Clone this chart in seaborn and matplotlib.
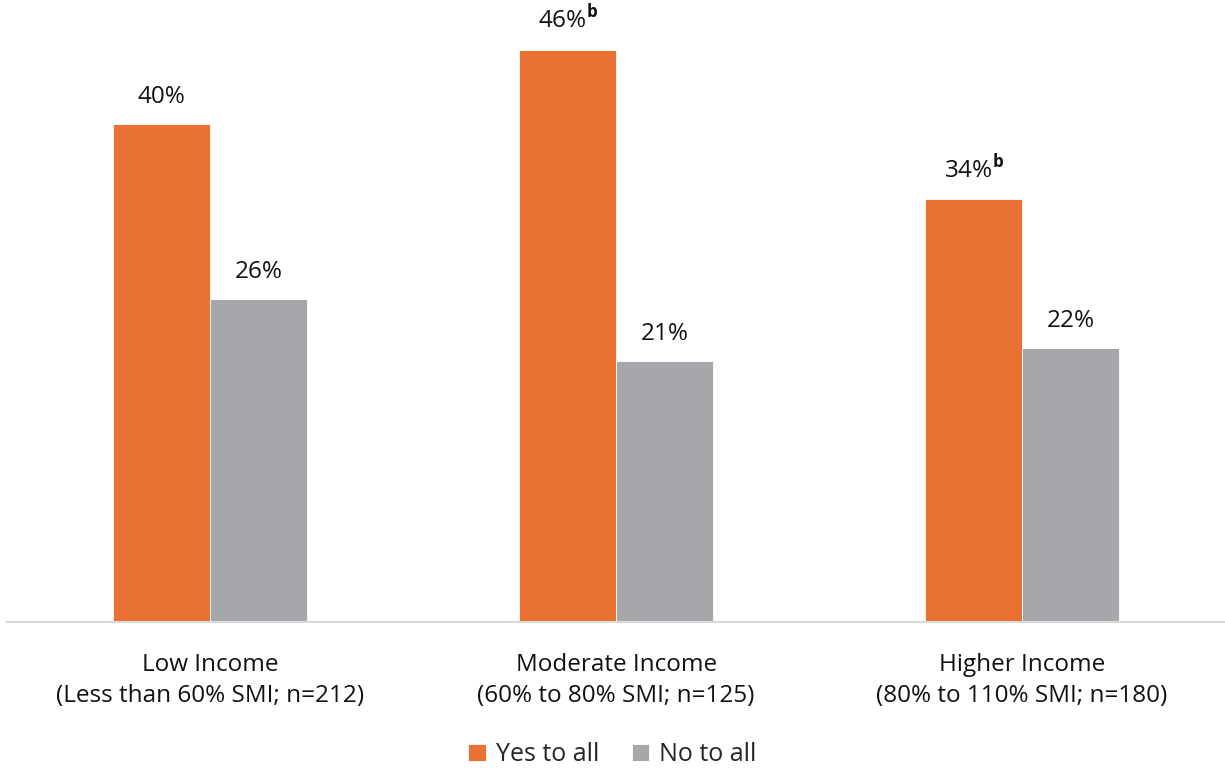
import matplotlib
matplotlib.use("Agg")
import matplotlib.pyplot as plt
import seaborn as sns
import pandas as pd

groups = ["Low Income\n(Less than 60% SMI; n=212)",
          "Moderate Income\n(60% to 80% SMI; n=125)",
          "Higher Income\n(80% to 110% SMI; n=180)"]
series = ["Yes to all", "No to all"]
yes_vals = [40, 46, 34]
no_vals = [26, 21, 22]
yes_notes = ["", "b", "b"]
no_notes = ["", "", ""]

colors = {"Yes to all": "#E97132", "No to all": "#A6A7AB"}

df = pd.DataFrame({
    "group": groups * 2,
    "series": [series[0]] * 3 + [series[1]] * 3,
    "value": yes_vals + no_vals,
    "note": yes_notes + no_notes,
})

sns.set_theme(style="white")
plt.rcParams["font.family"] = ["Open Sans", "DejaVu Sans"]
plt.rcParams["mathtext.fontset"] = "custom"
plt.rcParams["mathtext.rm"] = "Open Sans"
plt.rcParams["mathtext.bf"] = "Open Sans:bold"

fig = plt.figure(figsize=(12.25, 7.68), dpi=100)
ax = fig.add_axes([0.006, 0.19, 0.994, 0.81])

sns.barplot(data=df, x="group", y="value", hue="series", order=groups,
            hue_order=series, palette=colors, saturation=1, width=0.477,
            ax=ax, edgecolor="white", linewidth=0.6, legend=True)

ax.set_xlim(-0.5, 2.5)
ax.set_ylim(0, 50)

for container, s in zip(ax.containers, series):
    sub = df[df["series"] == s].set_index("group").loc[groups]
    for bar, (val, note) in zip(container, zip(sub["value"], sub["note"])):
        label = f"{val}%"
        if note:
            label += r"$^{\mathbf{" + note + "}}$"
        ax.text(bar.get_x() + bar.get_width() / 2, bar.get_height() + 1.2,
                label, ha="center", va="bottom", fontsize=17.5, color="#111111")

ax.set_xlabel("")
ax.set_ylabel("")
ax.set_yticks([])
for side in ["top", "right", "left"]:
    ax.spines[side].set_visible(False)
ax.spines["bottom"].set_color("#D9D9D9")
ax.spines["bottom"].set_linewidth(1.5)
ax.tick_params(axis="x", length=0, pad=22, labelsize=17.5, labelcolor="#111111")
for t in ax.get_xticklabels():
    t.set_linespacing(1.4)

handles, labels = ax.get_legend_handles_labels()
ax.legend_.remove()
fig.legend(handles, labels, loc="lower center", bbox_to_anchor=(0.5, -0.028),
           ncol=2, frameon=False, fontsize=18, handlelength=0.7,
           handleheight=0.7, handletextpad=0.4, columnspacing=1.3)

fig.savefig("out.png", dpi=100, facecolor="white")
